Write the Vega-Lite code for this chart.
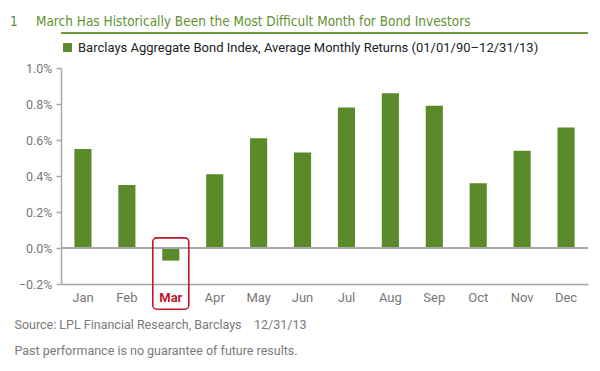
{
  "$schema": "https://vega.github.io/schema/vega-lite/v6.json",
  "width": 527,
  "height": 216,
  "padding": {"left": 10, "top": 14, "right": 12, "bottom": 4},
  "background": "white",
  "title": {
    "text": "1\u2003\u2002March Has Historically Been the Most Difficult Month for Bond Investors",
    "anchor": "start",
    "frame": "bounds",
    "font": "Liberation Sans Narrow, Arial Narrow, DejaVu Sans Condensed, Roboto",
    "fontSize": 13.5,
    "fontWeight": "normal",
    "color": "#5f9232",
    "offset": 4,
    "dx": -4
  },
  "config": {
    "view": {"stroke": null},
    "font": "Roboto",
    "legend": {
      "orient": "top",
      "title": null,
      "symbolType": "square",
      "symbolSize": 80,
      "labelFont": "Roboto",
      "labelFontSize": 13,
      "labelColor": "#222",
      "labelLimit": 700,
      "offset": 13,
      "padding": 0
    }
  },
  "data": {
    "values": [
      {"month": "Jan", "ret": 0.0055},
      {"month": "Feb", "ret": 0.0035},
      {"month": "Mar", "ret": -0.0007},
      {"month": "Apr", "ret": 0.0041},
      {"month": "May", "ret": 0.0061},
      {"month": "Jun", "ret": 0.0053},
      {"month": "Jul", "ret": 0.0078},
      {"month": "Aug", "ret": 0.0086},
      {"month": "Sep", "ret": 0.0079},
      {"month": "Oct", "ret": 0.0036},
      {"month": "Nov", "ret": 0.0054},
      {"month": "Dec", "ret": 0.0067}
    ]
  },
  "layer": [
    {
      "mark": {"type": "bar", "width": {"band": 0.39}},
      "encoding": {
        "x": {
          "field": "month",
          "type": "nominal",
          "sort": null,
          "scale": {"paddingInner": 0, "paddingOuter": 0},
          "axis": {
            "title": ["Source: LPL Financial Research, Barclays\u00a0\u00a0\u00a0\u00a012/31/13", "Past performance is no guarantee of future results."],
            "titleAnchor": "start",
            "titleAlign": "left",
            "titleX": -47,
            "titlePadding": 14,
            "titleLineHeight": 26,
            "titleFont": "Roboto",
            "titleFontSize": 12.5,
            "titleFontWeight": "normal",
            "titleColor": "#7a7a7a",
            "labelAngle": 0,
            "labelFont": "Roboto",
            "labelFontSize": 13,
            "labelPadding": 7,
            "labelColor": {"condition": {"test": "datum.value === 'Mar'", "value": "#c0172a"}, "value": "#777777"},
            "labelFontWeight": {"condition": {"test": "datum.value === 'Mar'", "value": "bold"}, "value": "normal"},
            "ticks": false,
            "domainColor": "#a8a8a8",
            "domainWidth": 1.5
          }
        },
        "y": {
          "field": "ret",
          "type": "quantitative",
          "scale": {"domain": [-0.002, 0.01], "nice": false},
          "axis": {
            "title": null,
            "values": [-0.002, 0, 0.002, 0.004, 0.006, 0.008, 0.01],
            "tickCount": 12,
            "format": ".1%",
            "grid": false,
            "labelOverlap": false,
            "labelFont": "Roboto",
            "labelFontSize": 12.5,
            "labelColor": "#777777",
            "labelPadding": 4,
            "tickSize": 5,
            "tickColor": "#a8a8a8",
            "tickWidth": 1.5,
            "domainColor": "#a8a8a8",
            "domainWidth": 1.5
          }
        },
        "color": {
          "datum": "Barclays Aggregate Bond Index, Average Monthly Returns (01/01/90–12/31/13)",
          "type": "nominal",
          "scale": {"range": ["#5b8a2b"]}
        }
      }
    },
    {
      "mark": {"type": "rule", "color": "#a8a8a8", "strokeWidth": 1.5},
      "encoding": {"y": {"datum": 0}}
    },
    {
      "transform": [{"filter": "datum.month === 'Mar'"}],
      "mark": {"type": "bar", "width": {"band": 0.82}, "fill": null, "fillOpacity": 0, "stroke": "#c0172a", "strokeWidth": 1.6, "cornerRadius": 4, "clip": false},
      "encoding": {
        "x": {"field": "month", "type": "nominal", "sort": null},
        "y": {"datum": 0.00056},
        "y2": {"datum": -0.0034}
      }
    },
    {
      "mark": {"type": "rule", "color": "#6e9a3e", "strokeWidth": 2, "clip": false},
      "encoding": {"y": {"datum": 0.01194}}
    }
  ]
}
